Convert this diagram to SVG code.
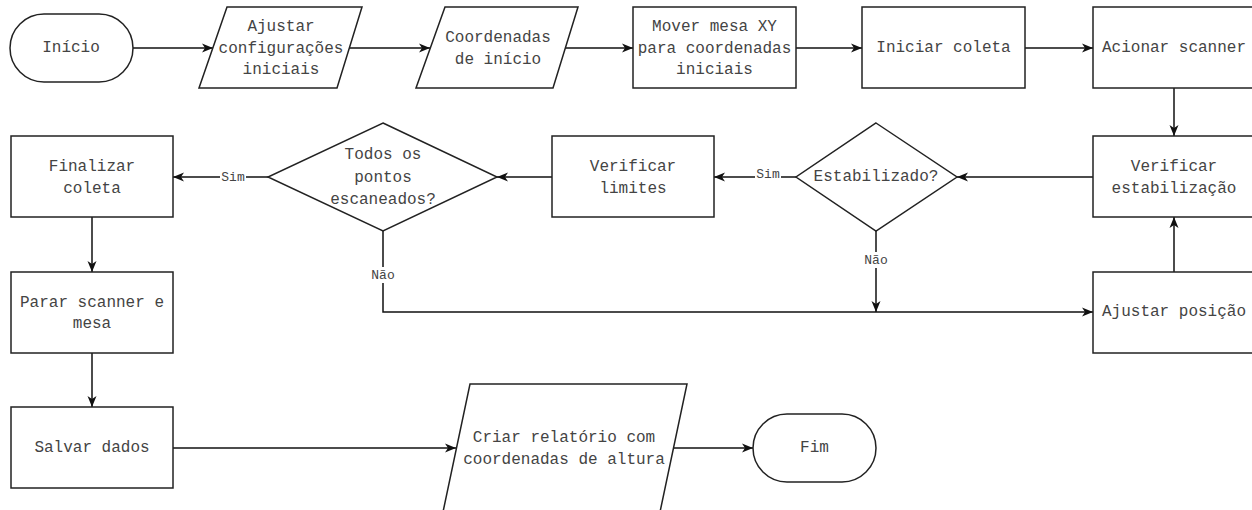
<svg xmlns="http://www.w3.org/2000/svg" width="1252" height="510" viewBox="0 0 1252 510">
<style>
.s{fill:#fff;stroke:#222;stroke-width:1.5}
.t{font-family:"Liberation Mono","Courier New",monospace;font-size:16px;fill:#444;text-anchor:middle;dominant-baseline:central}
.l{font-family:"Liberation Mono","Courier New",monospace;font-size:13px;fill:#444;text-anchor:middle;dominant-baseline:central}
.c{fill:none;stroke:#111;stroke-width:1.5}
.a{marker-end:url(#ah)}
</style>
<defs>
<marker id="ah" markerUnits="userSpaceOnUse" markerWidth="12" markerHeight="10" refX="11" refY="5" orient="auto">
<path d="M0,0.5 L11,5 L0,9.5 L3,5 z" fill="#111"/>
</marker>
</defs>
<rect width="1252" height="510" fill="#fff"/>
<g id="connectors">
<path class="c a" d="M133,48 H213"/>
<path class="c a" d="M349,48 H430"/>
<path class="c a" d="M565,48 H633"/>
<path class="c a" d="M796,48 H862"/>
<path class="c a" d="M1025,48 H1093"/>
<path class="c a" d="M1174,88 V136"/>
<path class="c a" d="M1093,177 H957"/>
<path class="c a" d="M796,177 H714"/>
<path class="c a" d="M552,177 H497"/>
<path class="c a" d="M268,177 H173"/>
<path class="c a" d="M383,231 V312 H1093"/>
<path class="c a" d="M876,231 V312"/>
<path class="c a" d="M1174,272 V217"/>
<path class="c a" d="M92,217 V272"/>
<path class="c a" d="M92,353 V407"/>
<path class="c a" d="M173,448 H456"/>
<path class="c a" d="M674,448 H753"/>
<rect x="755" y="168" width="26" height="14" fill="#fff"/>
<text class="l" x="768" y="174">Sim</text>
<rect x="220" y="170" width="26" height="14" fill="#fff"/>
<text class="l" x="233" y="177">Sim</text>
<rect x="369" y="267" width="28" height="16" fill="#fff"/>
<text class="l" x="383" y="275">Não</text>
<rect x="862" y="252" width="28" height="16" fill="#fff"/>
<text class="l" x="876" y="260">Não</text>
</g>
<g id="inicio">
<rect class="s" x="10" y="14" width="123" height="68" rx="34"/>
<text class="t" x="71" y="48">Início</text>
</g>
<g id="ajustar-config">
<polygon class="s" points="227,7 362,7 337,88 199,88"/>
<text class="t" x="281" y="27">Ajustar</text>
<text class="t" x="281" y="49">configurações</text>
<text class="t" x="281" y="70">iniciais</text>
</g>
<g id="coordenadas-inicio">
<polygon class="s" points="445,7 578,7 553,88 416,88"/>
<text class="t" x="498" y="38">Coordenadas</text>
<text class="t" x="498" y="60">de início</text>
</g>
<g id="mover-mesa">
<rect class="s" x="633" y="7" width="163" height="81"/>
<text class="t" x="714.5" y="27">Mover mesa XY</text>
<text class="t" x="714.5" y="49">para coordenadas</text>
<text class="t" x="714.5" y="70">iniciais</text>
</g>
<g id="iniciar-coleta">
<rect class="s" x="862" y="7" width="163" height="81"/>
<text class="t" x="943.5" y="48">Iniciar coleta</text>
</g>
<g id="acionar-scanner">
<rect class="s" x="1093" y="7" width="163" height="81"/>
<text class="t" x="1174" y="48">Acionar scanner</text>
</g>
<g id="verificar-estabilizacao">
<rect class="s" x="1093" y="136" width="163" height="81"/>
<text class="t" x="1174" y="167">Verificar</text>
<text class="t" x="1174" y="189">estabilização</text>
</g>
<g id="ajustar-posicao">
<rect class="s" x="1093" y="272" width="163" height="81"/>
<text class="t" x="1174" y="312">Ajustar posição</text>
</g>
<g id="estabilizado">
<polygon class="s" points="876,123 957,177 876,231 796,177"/>
<text class="t" x="876" y="177">Estabilizado?</text>
</g>
<g id="verificar-limites">
<rect class="s" x="552" y="136" width="162" height="81"/>
<text class="t" x="633" y="167">Verificar</text>
<text class="t" x="633" y="189">limites</text>
</g>
<g id="todos-pontos">
<polygon class="s" points="383,123 497,177 383,231 268,177"/>
<text class="t" x="383" y="155">Todos os</text>
<text class="t" x="383" y="178">pontos</text>
<text class="t" x="383" y="200">escaneados?</text>
</g>
<g id="finalizar-coleta">
<rect class="s" x="11" y="136" width="162" height="81"/>
<text class="t" x="92" y="167">Finalizar</text>
<text class="t" x="92" y="189">coleta</text>
</g>
<g id="parar-scanner">
<rect class="s" x="11" y="272" width="162" height="81"/>
<text class="t" x="92" y="303">Parar scanner e</text>
<text class="t" x="92" y="324">mesa</text>
</g>
<g id="salvar-dados">
<rect class="s" x="11" y="407" width="162" height="81"/>
<text class="t" x="92" y="448">Salvar dados</text>
</g>
<g id="criar-relatorio">
<polygon class="s" points="470,384 687,384 660,512 443,512"/>
<text class="t" x="564" y="438">Criar relatório com</text>
<text class="t" x="564" y="460">coordenadas de altura</text>
</g>
<g id="fim">
<rect class="s" x="753" y="414" width="123" height="68" rx="34"/>
<text class="t" x="814.5" y="448">Fim</text>
</g>
</svg>
